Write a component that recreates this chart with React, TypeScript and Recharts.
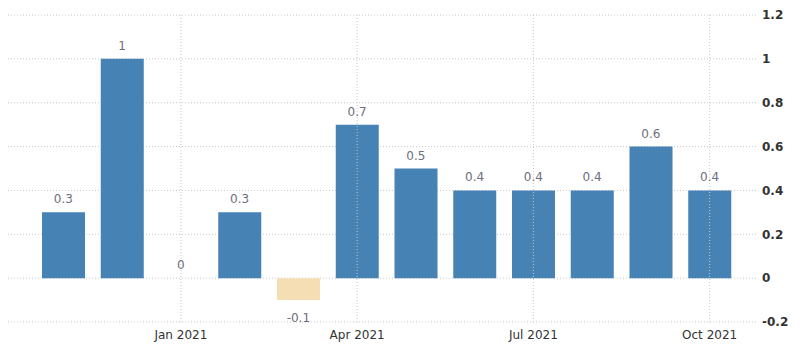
import React from 'react';
import { ComposedChart, Bar, Line, XAxis, YAxis, CartesianGrid, Cell, LabelList, ReferenceLine } from 'recharts';

const months = ['Nov 2020', 'Dec 2020', 'Jan 2021', 'Feb 2021', 'Mar 2021', 'Apr 2021', 'May 2021', 'Jun 2021', 'Jul 2021', 'Aug 2021', 'Sep 2021', 'Oct 2021'];
const values = [0.3, 1, 0, 0.3, -0.1, 0.7, 0.5, 0.4, 0.4, 0.4, 0.6, 0.4];
const xTicks = [2, 5, 8, 11];
const yTicks = [-0.2, 0, 0.2, 0.4, 0.6, 0.8, 1, 1.2];

const data = months.map((m, i) => ({ i, month: m, value: values[i] }));

const font = '"DejaVu Sans", sans-serif';
const gridColor = '#c8c8c8';

// label sits above positive bars, below negative ones
function ValueLabel(props: any) {
  const { x, y, value } = props;
  const ty = value < 0 ? y + 22 : y - 9;
  return (
    <text x={x} y={ty} textAnchor="middle" fontSize={12} fontFamily={font} fill="#6e6e7e">
      {value}
    </text>
  );
}

export default function App() {
  return (
    <div style={{ position: 'absolute', left: 0, top: 0, background: '#fff' }}>
      <ComposedChart width={800} height={355} data={data} margin={{ top: 15, right: 0, bottom: 0, left: 8 }}>
        <CartesianGrid stroke={gridColor} strokeDasharray="1 2" vertical={false} />
        {xTicks.map((t) => (
          <ReferenceLine key={t} x={t} stroke={gridColor} strokeDasharray="1 2" />
        ))}
        <XAxis
          dataKey="i"
          type="number"
          domain={[-0.5, 11.5]}
          ticks={xTicks}
          tickFormatter={(v: number) => months[v]}
          padding={{ left: 26, right: 18 }}
          axisLine={false}
          tickLine={false}
          tickSize={0}
          tickMargin={8}
          height={33}
          tick={{ fontSize: 12, fontFamily: font, fill: '#333' }}
        />
        <YAxis
          orientation="right"
          domain={[-0.2, 1.2]}
          ticks={yTicks}
          axisLine={false}
          tickLine={false}
          tickSize={0}
          tickMargin={5}
          width={43}
          tick={{ fontSize: 12, fontFamily: font, fill: '#333', fontWeight: 'bold' }}
        />
        <Bar dataKey="value" barSize={43} isAnimationActive={false}>
          {data.map((d) => (
            <Cell key={d.month} fill={d.value < 0 ? '#f5deb3' : '#4682b4'} />
          ))}
        </Bar>
        <Line dataKey="value" stroke="none" dot={false} activeDot={false} isAnimationActive={false}>
          <LabelList dataKey="value" content={ValueLabel} />
        </Line>
      </ComposedChart>
    </div>
  );
}
